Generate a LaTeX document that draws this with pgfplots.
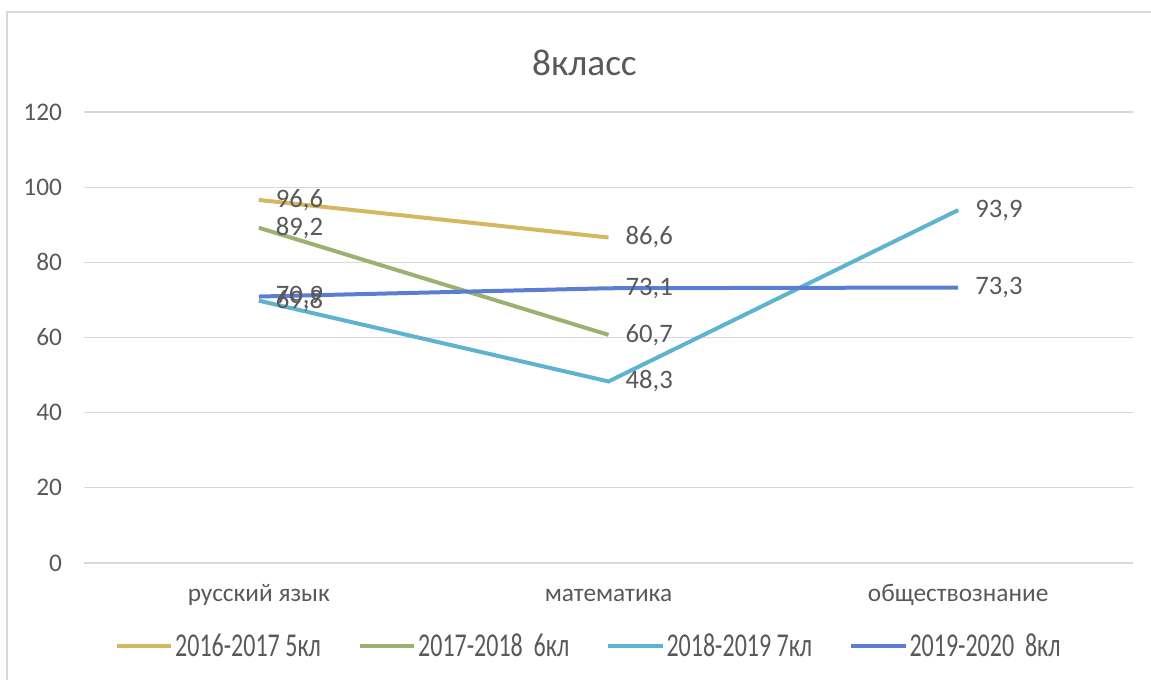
\documentclass[border=0pt]{standalone}
\usepackage{pgfplots}
\pgfplotsset{compat=1.18}
\usepackage{fontspec}
\setmainfont{Carlito}
\newfontfamily\legfont[FakeStretch=0.72]{Carlito}
\definecolor{cgold}{RGB}{212,183,96}
\definecolor{cgreen}{RGB}{155,177,112}
\definecolor{caqua}{RGB}{94,180,206}
\definecolor{cblue}{RGB}{92,126,210}
\definecolor{cgrid}{RGB}{217,217,217}
\definecolor{ctext}{RGB}{89,89,89}
\begin{document}
\begin{tikzpicture}
\path[use as bounding box] (-63pt,-87.75pt) rectangle (800.25pt,422.25pt);
\draw[cgrid, line width=1.5pt] (-57.75pt,-87.75pt) -- (-57.75pt,413.25pt) -- (800.25pt,413.25pt);
\begin{axis}[
  scale only axis,
  width=786.75pt, height=338.25pt,
  xmin=-0.5, xmax=2.5, ymin=0, ymax=120,
  xtick={0,1,2},
  xticklabels={русский язык, математика, обществознание},
  ytick={0,20,40,60,80,100,120},
  ymajorgrids, grid style={cgrid, line width=0.9pt},
  axis line style={draw=none},
  major tick length=0pt,
  tick label style={font=\fontsize{19}{22}\selectfont, text=ctext},
  xticklabel style={anchor=base, yshift=-29pt},
  yticklabel style={xshift=-13pt},
  /pgf/number format/assume math mode=true,
  title={8класс},
  title style={font=\fontsize{28}{32}\selectfont, text=ctext, at={(0.477,1)}, yshift=18pt, anchor=south},
  every axis plot/.append style={line width=3pt},
  nodes near coords,
  nodes near coords style={font=\fontsize{20}{22}\selectfont, text=ctext, anchor=west, xshift=8pt,
    /pgf/number format/.cd, fixed, fixed zerofill, precision=1, use comma},
  legend columns=4,
  legend style={draw=none, at={(0.481,-0.185)}, anchor=center, font=\legfont\fontsize{25}{28}\selectfont, text=ctext,
    nodes={inner xsep=1.5pt},
    /tikz/every odd column/.append style={column sep=0pt},
    /tikz/every even column/.append style={column sep=26pt}},
  legend image code/.code={\draw[#1, line width=3pt] (0pt,0pt) -- (41pt,0pt);},
]
\addplot[cgold] coordinates {(0,96.6) (1,86.6)};
\addlegendentry{2016-2017 5кл}
\addplot[cgreen] coordinates {(0,89.2) (1,60.7)};
\addlegendentry{2017-2018\ \ 6кл}
\addplot[caqua] coordinates {(0,69.8) (1,48.3) (2,93.9)};
\addlegendentry{2018-2019 7кл}
\addplot[cblue] coordinates {(0,70.9) (1,73.1) (2,73.3)};
\addlegendentry{2019-2020\ \ 8кл}
\end{axis}
\end{tikzpicture}
\end{document}
